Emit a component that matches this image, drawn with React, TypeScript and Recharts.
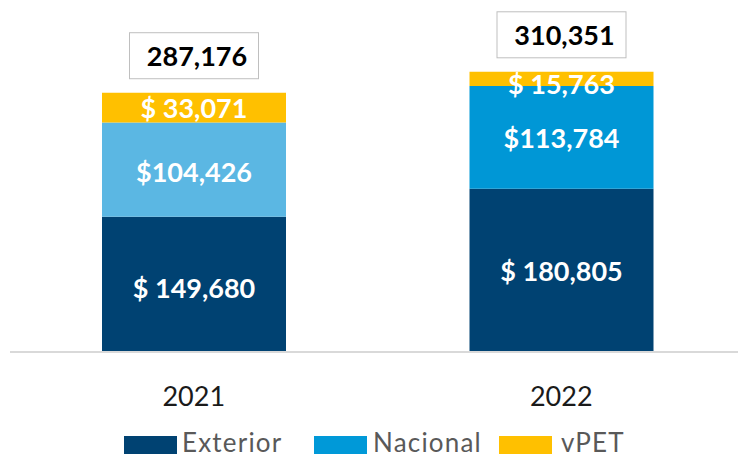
import { BarChart, Bar, XAxis, YAxis, LabelList, Cell } from 'recharts';

const years = ['2021', '2022'];
const exterior = [149680, 180805];
const nacional = [104426, 113784];
const vpet = [33071, 15763];
const totals = [287176, 310351];

const NAVY = '#004272';
const NACIONAL_COLORS = ['#5BB7E3', '#0097D6'];
const LEGEND_NACIONAL = '#0099D8';
const YELLOW = '#FFC000';
const FONT = 'Lato, "Open Sans", sans-serif';

const data = years.map((year, i) => ({
  year,
  exterior: exterior[i],
  nacional: nacional[i],
  vpet: vpet[i],
  total: totals[i],
}));

const fmt = (v: number) => v.toLocaleString('en-US');

const SegmentLabel = (prefix: string, dyShift: number[] = [0, 0]) => (props: any) => {
  const { x, y, width, height, value, index } = props;
  return (
    <text
      x={x + width / 2}
      y={y + height / 2 + (dyShift[index] || 0)}
      textAnchor="middle"
      dominantBaseline="central"
      fill="#ffffff"
      fontFamily={FONT}
      fontWeight={700}
      fontSize={27}
    >
      {prefix + fmt(value)}
    </text>
  );
};

const TotalLabel = (props: any) => {
  const { x, y, width, index } = props;
  const cx = x + width / 2;
  const boxW = 129;
  const boxH = 46;
  const bottom = y - 14;
  return (
    <g>
      <rect x={cx - boxW / 2} y={bottom - boxH} width={boxW} height={boxH} fill="#fff" stroke="#bfbfbf" strokeWidth={1} />
      <text
        x={cx + 3}
        y={bottom - boxH / 2}
        textAnchor="middle"
        dominantBaseline="central"
        fill="#000"
        fontFamily={FONT}
        fontWeight={700}
        fontSize={27}
      >
        {fmt(totals[index])}
      </text>
    </g>
  );
};

// legend entries, laid out like the original (swatch x, text x)
const legendItems = [
  { name: 'Exterior', color: NAVY, sx: 124, tx: 182 },
  { name: 'Nacional', color: LEGEND_NACIONAL, sx: 314, tx: 373 },
  { name: 'vPET', color: YELLOW, sx: 499, tx: 561 },
];

export default function App() {
  return (
    <div style={{ position: 'fixed', left: 0, top: 0, width: 738, height: 459, overflow: 'hidden', background: '#fff' }}>
      <BarChart
        width={745}
        height={459}
        data={data}
        margin={{ top: 36, right: 0, left: 10, bottom: 77 }}
        barSize={184}
      >
        <XAxis
          dataKey="year"
          height={30}
          tickLine={false}
          axisLine={{ stroke: '#d9d9d9', strokeWidth: 2 }}
          tickMargin={29}
          tick={{ fontSize: 27, fill: '#1a1a1a', fontFamily: FONT }}
        />
        <YAxis hide domain={[0, 350000]} />
        <Bar dataKey="exterior" stackId="a" fill={NAVY} isAnimationActive={false}>
          <LabelList dataKey="exterior" content={SegmentLabel('$ ', [3, 0])} />
        </Bar>
        <Bar dataKey="nacional" stackId="a" isAnimationActive={false}>
          {data.map((_, i) => (
            <Cell key={`nac-${i}`} fill={NACIONAL_COLORS[i]} />
          ))}
          <LabelList dataKey="nacional" content={SegmentLabel('$', [2, 0])} />
        </Bar>
        <Bar dataKey="vpet" stackId="a" fill={YELLOW} isAnimationActive={false}>
          <LabelList dataKey="vpet" content={SegmentLabel('$ ', [0, 5])} />
          <LabelList dataKey="total" content={TotalLabel} />
        </Bar>
      </BarChart>
      <svg width={738} height={459} style={{ position: 'absolute', left: 0, top: 0, pointerEvents: 'none' }}>
        {legendItems.map((item) => (
          <g key={item.name}>
            <rect x={item.sx} y={436} width={53} height={18} fill={item.color} />
            <text x={item.tx} y={452} fontFamily={FONT} fontSize={26} letterSpacing={1.2} fill="#595959">
              {item.name}
            </text>
          </g>
        ))}
      </svg>
    </div>
  );
}
